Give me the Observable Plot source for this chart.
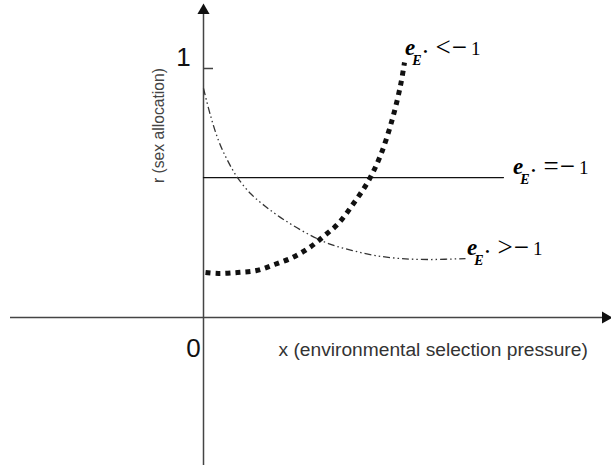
<!DOCTYPE html>
<html>
<head>
<meta charset="utf-8">
<script src="https://cdn.jsdelivr.net/npm/d3@7"></script>
<script src="https://cdn.jsdelivr.net/npm/@observablehq/plot@0.6"></script>
<style>
  html, body { margin: 0; padding: 0; background: #fff; }
</style>
</head>
<body>
<div id="chart"></div>
<script>
// ---- data (conceptual units: x = selection pressure, y = sex allocation r) ----
// e_E* < -1 : thick dotted, rising
const riseX = [0.01, 0.075, 0.17, 0.265, 0.355, 0.445, 0.53, 0.605, 0.675, 0.75, 0.82, 0.885, 0.945, 0.985, 1.005];
const riseY = [0.181, 0.177, 0.181, 0.189, 0.213, 0.241, 0.281, 0.329, 0.378, 0.458, 0.542, 0.651, 0.799, 0.932, 1.024];
// e_E* = -1 : constant
const flatX = [0, 1.5];
const flatY = [0.562, 0.562];
// e_E* > -1 : dash-dot, falling
const fallX = [0, 0.035, 0.075, 0.12, 0.17, 0.235, 0.31, 0.40, 0.51, 0.625, 0.745, 0.86, 0.985, 1.135, 1.31];
const fallY = [0.920, 0.811, 0.711, 0.631, 0.562, 0.498, 0.446, 0.394, 0.341, 0.297, 0.269, 0.249, 0.237, 0.233, 0.237];

// curve labels
const labelSymbols = ["<", "=", ">"];
const labelX = [1.01, 1.55, 1.32];
const labelY = [1.052, 0.574, 0.249];

// axes
const xAxisExtent = [-0.965, 2.01];
const yAxisExtent = [-0.594, 1.233];
const yTicks = [1];
const yTickLabels = ["1"];
const originLabel = "0";
const xTitle = "x (environmental selection pressure)";
const yTitle = "r (sex allocation)";

// ---- build tables ----
const rise = riseX.map((x, i) => ({x, y: riseY[i]}));
const flat = flatX.map((x, i) => ({x, y: flatY[i]}));
const fall = fallX.map((x, i) => ({x, y: fallY[i]}));
const labels = labelSymbols.map((s, i) => ({x: labelX[i], y: labelY[i], s}));

const serif = "'Liberation Serif', 'Times New Roman', serif";
const sans = "'Liberation Sans', Arial, sans-serif";

// label e_{E*} ? −1 built as one text with tspans, placed through Plot's scales
function curveLabels(index, scales) {
  const g = d3.create("svg:g").attr("font-family", serif).attr("fill", "#000").attr("text-anchor", "start");
  for (const d of labels) {
    const t = g.append("text").attr("text-anchor", "start").attr("x", scales.x(d.x)).attr("y", scales.y(d.y));
    t.append("tspan").attr("font-size", 23).attr("font-weight", "bold").attr("font-style", "italic").text("e");
    t.append("tspan").attr("font-size", 14).attr("font-weight", "bold").attr("font-style", "italic").attr("dx", -3).attr("dy", 10).text("E");
    t.append("tspan").attr("font-size", 11).attr("font-weight", "bold").attr("dx", 2).attr("dy", -10).text("\u2022");
    t.append("tspan").attr("font-size", 27).attr("dx", 8).attr("dy", 1).text(d.s);
    t.append("tspan").attr("font-size", 27).attr("dx", 1).text("\u2212");
    t.append("tspan").attr("font-size", 19).attr("dx", 4).attr("dy", -1).text("1");
  }
  return g.node();
}

const chart = Plot.plot({
  width: 611,
  height: 465,
  margin: 0,
  x: {domain: [-1.015, 2.04], axis: null},
  y: {domain: [-0.594, 1.273], axis: null},
  marks: [
    // axes lines
    Plot.ruleY([0], {x1: xAxisExtent[0], x2: xAxisExtent[1], stroke: "#444", strokeWidth: 1.5}),
    Plot.ruleX([0], {y1: yAxisExtent[0], y2: yAxisExtent[1], stroke: "#444", strokeWidth: 1.5}),
    Plot.dot([{x: xAxisExtent[1], y: 0}], {x: "x", y: "y", symbol: "triangle", r: 4.5, rotate: 90, fill: "#111", stroke: null}),
    Plot.dot([{x: 0, y: yAxisExtent[1]}], {x: "x", y: "y", symbol: "triangle", r: 4.5, rotate: 0, fill: "#111", stroke: null}),
    // tick at 1
    Plot.ruleY(yTicks, {x1: 0, x2: 0.05, stroke: "#444", strokeWidth: 1.5}),
    Plot.text(yTicks, {x: 0, y: d => d, text: (d, i) => yTickLabels[i], dx: -20, dy: -11, textAnchor: "middle", fontSize: 26, fontFamily: sans, fill: "#111"}),
    Plot.text([originLabel], {x: 0, y: 0, text: d => d, dx: -10, dy: 31, textAnchor: "middle", fontSize: 26, fontFamily: sans, fill: "#111"}),
    // axis titles
    Plot.text([xTitle], {x: 0, y: 0, text: d => d, dx: 75, dy: 38, textAnchor: "start", lineAnchor: "bottom", fontSize: 19.2, fontFamily: sans, fill: "#333"}),
    Plot.text([yTitle], {x: 0, y: 0, text: d => d, dx: -45, dy: -192, rotate: -90, textAnchor: "middle", fontSize: 15.7, fontFamily: sans, fill: "#444"}),
    // curves
    Plot.line(flat, {x: "x", y: "y", stroke: "#111", strokeWidth: 1.2}),
    Plot.line(fall, {x: "x", y: "y", curve: "catmull-rom", stroke: "#333", strokeWidth: 1.3, strokeDasharray: "7,3,1.5,3,1.5,3", strokeLinecap: "butt"}),
    Plot.line(rise, {x: "x", y: "y", curve: "catmull-rom", stroke: "#111", strokeWidth: 5, strokeDasharray: "5,5", strokeLinecap: "butt"}),
    // curve labels
    curveLabels
  ]
});
document.getElementById("chart").appendChild(chart);
</script>
</body>
</html>
